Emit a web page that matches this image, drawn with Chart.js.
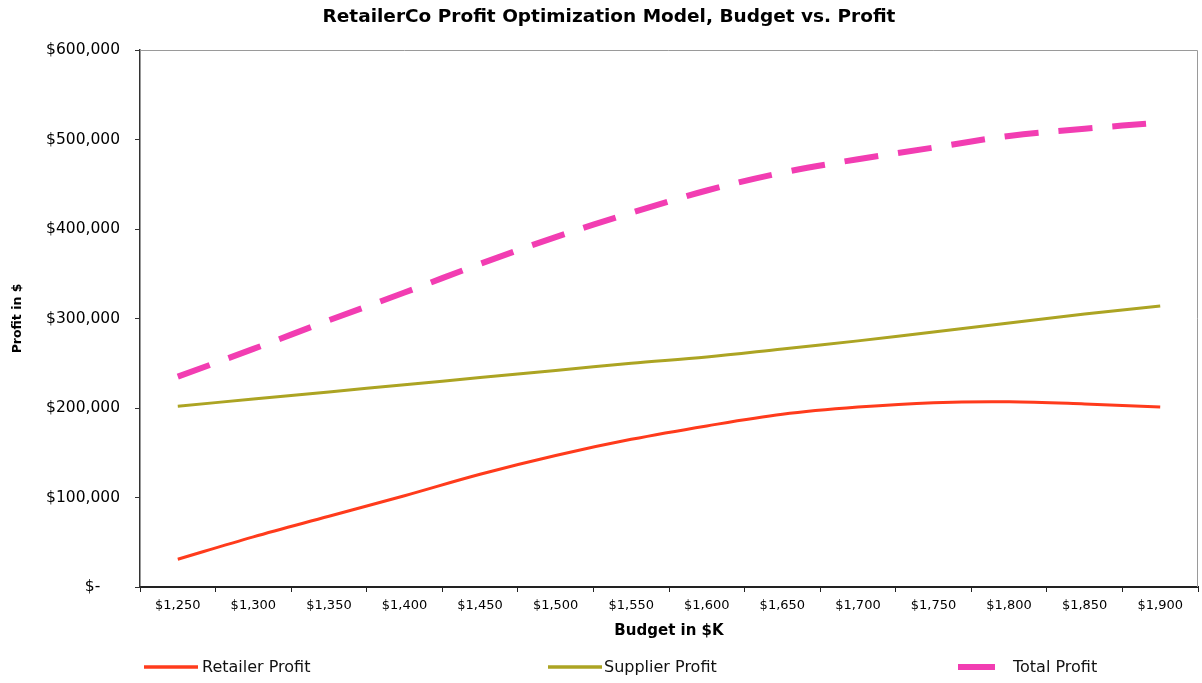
<!DOCTYPE html>
<html>
<head>
<meta charset="utf-8">
<script src="https://cdn.jsdelivr.net/npm/chart.js@4.4.1/dist/chart.umd.min.js"></script>
<style>
  html, body { margin:0; padding:0; background:#fff; }
  #wrap { width:1202px; height:683px; position:relative; }
</style>
</head>
<body>
<div id="wrap"><canvas id="chart" width="1202" height="683"></canvas></div>
<script>
// budget steps ($K) on the x axis
var budgets = ["$1,250","$1,300","$1,350","$1,400","$1,450","$1,500","$1,550",
               "$1,600","$1,650","$1,700","$1,750","$1,800","$1,850","$1,900"];
// profit in $
var retailerProfit = [31000, 56000, 79000, 102000, 126000, 147000, 165000,
                      180000, 193000, 201000, 206000, 207000, 204500, 201000];
var supplierProfit = [202000, 210000, 218000, 226000, 234000, 242000, 250000,
                      257000, 266000, 275000, 285000, 295000, 305000, 314000];
var totalProfit    = [235000, 266000, 298000, 329000, 361000, 391000, 418000,
                      443000, 463000, 478000, 491000, 504000, 512000, 519000];
var yTicks = [0, 100000, 200000, 300000, 400000, 500000, 600000];

var FONT = "'DejaVu Sans', Verdana, sans-serif";

function money(v){
  if (v === 0) return "$-    ";
  return "$" + v.toLocaleString("en-US");
}

// title, frame and bottom legend drawn by hand
var decor = {
  id: "decor",
  afterDraw: function(chart){
    var ctx = chart.ctx, a = chart.chartArea;
    ctx.save();
    // grey frame on top and right
    ctx.strokeStyle = "#9a9a9a"; ctx.lineWidth = 1;
    ctx.beginPath();
    ctx.moveTo(a.left, a.top + 0.5); ctx.lineTo(a.right - 0.5, a.top + 0.5); ctx.lineTo(a.right - 0.5, a.bottom);
    ctx.stroke();

    ctx.fillStyle = "#000";
    ctx.font = "bold 18.5px " + FONT;
    ctx.textAlign = "center"; ctx.textBaseline = "middle";
    ctx.fillText("RetailerCo Profit Optimization Model, Budget vs. Profit", 609, 17);

    var items = [
      { ds: 0, x0: 144, x1: 198, tx: 202 },
      { ds: 1, x0: 548, x1: 602, tx: 604 },
      { ds: 2, x0: 958, x1: 995, tx: 1013 }
    ];
    var y = 667;
    ctx.font = "16px " + FONT;
    ctx.textAlign = "left";
    items.forEach(function(it){
      var d = chart.data.datasets[it.ds];
      ctx.strokeStyle = d.borderColor;
      ctx.lineWidth = it.ds === 2 ? 6 : 3.5;
      ctx.setLineDash([]);
      ctx.beginPath(); ctx.moveTo(it.x0, y); ctx.lineTo(it.x1, y); ctx.stroke();
      ctx.fillStyle = "#111";
      ctx.fillText(d.label, it.tx, y + 1);
    });
    ctx.restore();
  }
};

new Chart(document.getElementById("chart"), {
  type: "line",
  data: {
    labels: budgets,
    datasets: [
      { label: "Retailer Profit", data: retailerProfit, borderColor: "#ff3b1c", borderWidth: 3, tension: 0.35 },
      { label: "Supplier Profit", data: supplierProfit, borderColor: "#aca423", borderWidth: 3, tension: 0.35 },
      { label: "Total Profit", data: totalProfit, borderColor: "#f23db2", borderWidth: 6,
        borderDash: [34, 20], borderCapStyle: "butt", tension: 0.35 }
    ]
  },
  options: {
    responsive: false,
    animation: false,
    devicePixelRatio: 1,
    elements: { point: { radius: 0, hoverRadius: 0 } },
    layout: { padding: { top: 50, right: 4, bottom: 36, left: 0 } },
    plugins: { legend: { display: false }, tooltip: { enabled: false }, title: { display: false } },
    scales: {
      x: {
        offset: true,
        grid: { display: true, offset: true, drawOnChartArea: false, tickLength: 5, color: "#222" },
        border: { display: true, color: "#222", width: 2 },
        ticks: { color: "#000", font: { family: FONT, size: 13 }, padding: 6, maxRotation: 0, autoSkip: false },
        title: { display: true, text: "Budget in $K", color: "#000", font: { family: FONT, size: 15, weight: "bold" },
                 padding: { top: 2, bottom: 7 } },
        afterFit: function(s){ s.height = 60; }
      },
      y: {
        min: 0, max: 600000,
        afterBuildTicks: function(s){ s.ticks = yTicks.map(function(v){ return { value: v }; }); },
        grid: { display: true, drawOnChartArea: false, tickLength: 5, color: "#333" },
        border: { display: true, color: "#333", width: 1.5 },
        ticks: { color: "#000", font: { family: FONT, size: 15.5 }, padding: 15, callback: function(v){ return money(v); } },
        title: { display: true, text: "Profit in $", color: "#000", font: { family: FONT, size: 12.5, weight: "bold" },
                 padding: { top: 10, bottom: 4 } },
        afterFit: function(s){ s.width = 140; }
      }
    }
  },
  plugins: [decor]
});
</script>
</body>
</html>
